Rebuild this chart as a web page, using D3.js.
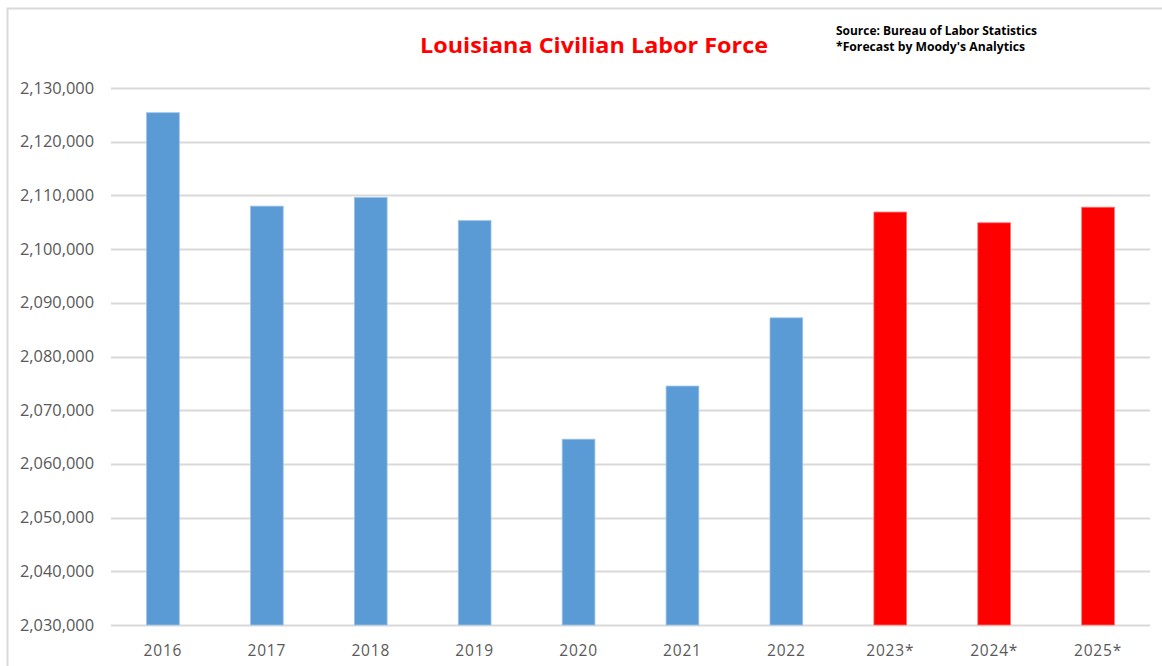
<!DOCTYPE html>
<html>
<head>
<meta charset="utf-8">
<script src="https://cdn.jsdelivr.net/npm/d3@7"></script>
<style>
  body { margin: 0; background: #fff; }
  svg { display: block; }
</style>
</head>
<body>
<div id="chart"></div>
<script>
const years = ["2016", "2017", "2018", "2019", "2020", "2021", "2022", "2023*", "2024*", "2025*"]
const laborForce = [2125400, 2108000, 2109600, 2105300, 2064600, 2074500, 2087200, 2106900, 2104900, 2107800]
const forecast = [false, false, false, false, false, false, false, true, true, true]
const yTicks = [2030000, 2040000, 2050000, 2060000, 2070000, 2080000, 2090000, 2100000, 2110000, 2120000, 2130000]
const sourceLines = ["Source: Bureau of Labor Statistics", "*Forecast by Moody's Analytics"]

const width = 1162, height = 666
const margin = {top: 88, right: 12, bottom: 41, left: 111}

const svg = d3.select("#chart").append("svg")
    .attr("width", width)
    .attr("height", height)

// chart area border
svg.append("rect")
    .attr("x", 7.5).attr("y", 8.5)
    .attr("width", 1170).attr("height", 700)
    .attr("fill", "none")
    .attr("stroke", "#d9d9d9")
    .attr("stroke-width", 2)

const x = d3.scaleBand()
    .domain(years)
    .range([margin.left, width - margin.right])
    .paddingInner(0.685)
    .paddingOuter(0.3425)

const y = d3.scaleLinear()
    .domain([2030000, 2130000])
    .range([height - margin.bottom, margin.top])

// gridlines
svg.append("g")
    .selectAll("line")
    .data(yTicks)
    .enter()
    .append("line")
    .attr("x1", margin.left)
    .attr("x2", width - margin.right)
    .attr("y1", d => Math.round(y(d)) + 0.5)
    .attr("y2", d => Math.round(y(d)) + 0.5)
    .attr("stroke", "#d9d9d9")
    .attr("stroke-width", 2)

// y axis labels
const fmt = d3.format(",")
svg.append("g")
    .selectAll("text")
    .data(yTicks)
    .enter()
    .append("text")
    .attr("x", 94)
    .attr("y", d => y(d) + 5.5)
    .attr("text-anchor", "end")
    .attr("font-family", "'Open Sans', 'Liberation Sans', sans-serif")
    .attr("font-size", 15.5)
    .attr("fill", "#595959")
    .attr("textLength", 74)
    .attr("lengthAdjust", "spacingAndGlyphs")
    .text(d => fmt(d))

// bars
svg.append("g")
    .selectAll("rect")
    .data(years)
    .enter()
    .append("rect")
    .attr("x", d => x(d))
    .attr("y", (d, i) => y(laborForce[i]))
    .attr("width", x.bandwidth())
    .attr("height", (d, i) => y(2030000) - y(laborForce[i]))
    .attr("fill", (d, i) => forecast[i] ? "#ff0000" : "#5b9bd5")
    .attr("stroke", (d, i) => forecast[i] ? "#ff7070" : "#9dc3e6")
    .attr("stroke-width", 0.8)

// x axis labels
svg.append("g")
    .selectAll("text")
    .data(years)
    .enter()
    .append("text")
    .attr("x", d => x(d) + x.bandwidth() / 2)
    .attr("y", 656)
    .attr("text-anchor", "middle")
    .attr("font-family", "'Open Sans', 'Liberation Sans', sans-serif")
    .attr("font-size", 15.5)
    .attr("fill", "#595959")
    .attr("letter-spacing", 0.8)
    .text(d => d)

// title
svg.append("text")
    .attr("x", 594)
    .attr("y", 53)
    .attr("text-anchor", "middle")
    .attr("font-family", "'Open Sans', 'Liberation Sans', sans-serif")
    .attr("font-weight", "bold")
    .attr("font-size", 21.5)
    .attr("fill", "#ff0000")
    .attr("textLength", 348)
    .attr("lengthAdjust", "spacingAndGlyphs")
    .text("Louisiana Civilian Labor Force")

// source note
svg.append("g")
    .selectAll("text")
    .data(sourceLines)
    .enter()
    .append("text")
    .attr("x", 836)
    .attr("y", (d, i) => 35 + i * 16)
    .attr("font-family", "'Open Sans', 'Liberation Sans', sans-serif")
    .attr("font-weight", "bold")
    .attr("font-size", 11.5)
    .attr("fill", "#000")
    .attr("textLength", (d, i) => i === 0 ? 201 : 189)
    .attr("lengthAdjust", "spacingAndGlyphs")
    .text(d => d)
</script>
</body>
</html>
